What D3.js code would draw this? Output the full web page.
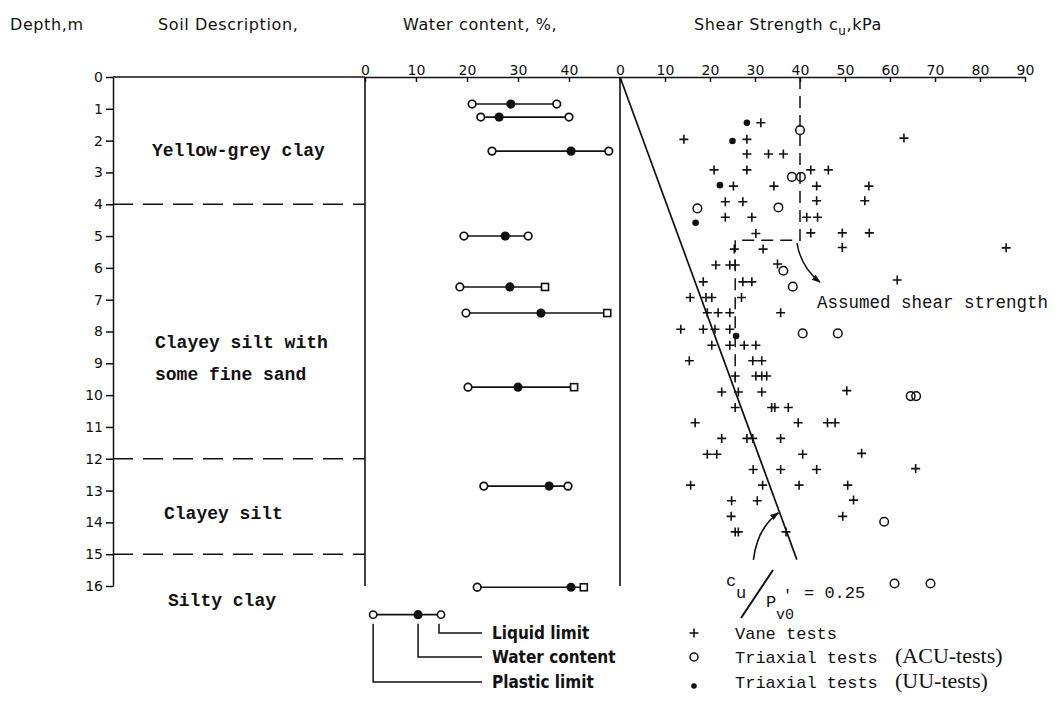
<!DOCTYPE html>
<html>
<head>
<meta charset="utf-8">
<script src="https://cdn.jsdelivr.net/npm/d3@7"></script>
<style>
  body { margin: 0; background: #fff; }
  svg text { fill: #111; }
</style>
</head>
<body>
<svg id="chart" width="1057" height="725"></svg>
<script>
// ---- Water content profile (depth in m, values in %) ----
const wcDepth         = [0.85, 1.26, 2.33, 5.0, 6.6, 7.42, 9.75, 12.86, 16.04];
const plasticLimit    = [21.0, 22.7, 24.9, 19.4, 18.6, 19.8, 20.2, 23.3, 22.0];
const waterContent    = [28.6, 26.3, 40.4, 27.5, 28.4, 34.5, 30.0, 36.1, 40.4];
const liquidLimit     = [37.6, 40.0, 47.8, 32.0, 35.3, 47.5, 41.0, 39.8, 42.9];
const liquidLimitMark = ["circle", "circle", "circle", "circle", "square", "square", "square", "circle", "square"];

// ---- Vane tests: undrained shear strength (kPa) against depth (m) ----
const vaneDepth = [1.44, 1.96, 1.96, 2.42, 2.42, 2.42, 2.92, 2.92, 2.92, 2.92,
  3.43, 3.43, 3.43, 3.43, 3.92, 3.92, 3.89, 3.89, 4.41, 4.41, 4.41, 4.41,
  4.92, 4.90, 4.90, 4.90, 5.41, 5.41, 5.36, 5.91, 5.91, 5.91, 5.88,
  6.44, 6.44, 6.44, 6.38, 6.93, 6.93, 6.93, 6.93, 7.41, 7.41, 7.41, 7.41,
  7.93, 7.93, 7.93, 7.93, 8.43, 8.43, 8.43, 8.43, 8.92, 8.92, 8.92,
  9.40, 9.40, 9.40, 9.40, 9.90, 9.90, 9.90, 9.86, 10.39, 10.39, 10.39, 10.39,
  10.87, 10.87, 10.87, 10.87, 11.36, 11.36, 11.36, 11.36, 11.86, 11.86, 11.86, 11.83,
  12.34, 12.34, 12.34, 12.83, 12.83, 12.83, 12.83, 13.32, 13.32, 13.30,
  13.81, 13.81, 14.30, 14.30, 14.30, 1.92, 5.37, 12.31];
const vaneCu = [31.3, 14.2, 28.2, 28.2, 33.0, 36.3, 20.9, 28.2, 42.4, 46.3,
  25.2, 34.2, 43.7, 55.3, 23.4, 27.3, 43.7, 54.4, 23.4, 29.3, 41.5, 43.9,
  30.2, 42.4, 49.4, 55.4, 25.4, 31.8, 49.4, 21.3, 24.4, 25.6, 35.0,
  18.5, 27.3, 29.3, 61.6, 15.6, 19.1, 20.4, 27.0, 19.4, 21.8, 24.4, 35.7,
  13.5, 18.5, 21.1, 24.4, 20.4, 24.4, 27.6, 30.2, 15.4, 29.5, 31.5,
  25.6, 30.2, 31.5, 32.6, 22.6, 26.3, 31.5, 50.4, 25.6, 33.7, 34.4, 37.4,
  16.7, 39.6, 46.1, 47.8, 22.6, 28.2, 29.5, 35.7, 19.4, 21.5, 40.6, 53.7,
  29.6, 35.7, 43.7, 15.7, 31.7, 39.8, 50.6, 24.8, 30.5, 51.9,
  24.7, 49.5, 25.6, 26.3, 36.9, 63.1, 85.8, 65.7];

// ---- Triaxial tests ----
const acuDepth = [1.67, 3.14, 3.14, 4.13, 4.10, 6.09, 6.59, 8.06, 8.06, 10.03, 10.03, 13.98, 15.92, 15.92];
const acuCu    = [40.0, 38.2, 40.2, 17.2, 35.2, 36.3, 38.4, 40.6, 48.4, 64.6, 65.8, 58.7, 61.0, 69.0];
const uuDepth  = [1.44, 2.01, 3.40, 4.58, 8.14];
const uuCu     = [28.2, 25.0, 22.2, 16.8, 25.8];

// ---- Design lines ----
const ratioLineDepth = [0, 15.17];          // c_u / p'_v0 = 0.25
const ratioLineCu    = [0, 39.3];
const assumedDepth   = [0, 5.13, 5.13, 9.6]; // assumed shear strength (step)
const assumedCu      = [40, 40, 25.6, 25.6];

// ---- Soil profile ----
const layerBounds  = [4, 12, 15];
const soilNames    = [["Yellow-grey clay"], ["Clayey silt with", "some fine sand"], ["Clayey silt"], ["Silty clay"]];
const soilLabelDepth = [2.3, 8.33, 13.7, 16.45];

// ---- Axes ----
const depthTicks = d3.range(0, 17);
const waterTicks = [0, 10, 20, 30, 40];
const shearTicks = d3.range(0, 100, 10);

// ---- Legend ----
const legendWater = { pl: 1.6, w: 10.4, ll: 14.9, depth: 16.9 };
const waterLegendLabels = ["Liquid limit", "Water content", "Plastic limit"];
const testLegendLabels  = [["Vane tests", ""], ["Triaxial tests", "(ACU-tests)"], ["Triaxial tests", "(UU-tests)"]];

const svg = d3.select("#chart");
const MONO = "'Liberation Mono', 'DejaVu Sans Mono', monospace";
const SANS = "'DejaVu Sans', sans-serif";
const INK = "#111";

const yD = d3.scaleLinear().domain([0, 16]).range([77, 586]);
const xW = d3.scaleLinear().domain([0, 50]).range([365, 620]);
const xS = d3.scaleLinear().domain([0, 90]).range([620, 1025]);
const xDepthAxis = 113;

// ---- Header ----
const header = svg.append("g").attr("font-family", SANS).attr("font-size", 16).attr("letter-spacing", 0.6);
header.append("text").attr("x", 10).attr("y", 30).text("Depth,m");
header.append("text").attr("x", 158).attr("y", 30).text("Soil Description,");
header.append("text").attr("x", 403).attr("y", 30).text("Water content, %,");
const sh = header.append("text").attr("x", 694).attr("y", 30);
sh.append("tspan").text("Shear Strength  c");
sh.append("tspan").attr("dy", 5).attr("font-size", 12).text("u");
sh.append("tspan").attr("dy", -5).text(",kPa");

// ---- Axes ----
function styleAxis(g) {
  g.selectAll("path, line").attr("stroke", INK).attr("stroke-width", 1.5);
  g.selectAll("text").attr("font-family", SANS).attr("font-size", 14).attr("fill", INK);
}
svg.append("g").attr("transform", `translate(${xDepthAxis},0)`)
  .call(d3.axisLeft(yD).tickValues(depthTicks).tickSizeInner(7).tickSizeOuter(0).tickPadding(3))
  .call(styleAxis);
svg.append("line").attr("x1", xDepthAxis).attr("x2", xW(0)).attr("y1", yD(0)).attr("y2", yD(0))
  .attr("stroke", INK).attr("stroke-width", 1.5);
svg.append("g").attr("transform", `translate(0,${yD(0)})`)
  .call(d3.axisTop(xW).tickValues(waterTicks).tickSizeInner(-5).tickSizeOuter(0).tickPadding(2))
  .call(styleAxis);
svg.append("g").attr("transform", `translate(0,${yD(0)})`)
  .call(d3.axisTop(xS).tickValues(shearTicks).tickSizeInner(-5).tickSizeOuter(0).tickPadding(2))
  .call(styleAxis);

// panel borders of the water-content column
[xW(0), xW(50)].forEach(x => {
  svg.append("line").attr("x1", x).attr("x2", x).attr("y1", yD(0)).attr("y2", yD(16))
    .attr("stroke", INK).attr("stroke-width", 1.6);
});

// ---- Soil layers ----
svg.append("g").selectAll("line").data(layerBounds).join("line")
  .attr("x1", xDepthAxis).attr("x2", xW(0))
  .attr("y1", d => yD(d)).attr("y2", d => yD(d))
  .attr("stroke", INK).attr("stroke-width", 1.4).attr("stroke-dasharray", "20,10");
const soilX = [152, 155, 164, 168];
const soil = svg.append("g").attr("font-family", MONO).attr("font-size", 18).attr("font-weight", "bold");
soilNames.forEach((lines, i) => {
  lines.forEach((t, j) => {
    soil.append("text").attr("x", soilX[i]).attr("y", yD(soilLabelDepth[i]) + 6 + j * 32).text(t);
  });
});

// ---- Water content rows ----
const wc = svg.append("g");
wcDepth.forEach((d, i) => {
  const y = yD(d);
  wc.append("line").attr("x1", xW(plasticLimit[i])).attr("x2", xW(liquidLimit[i]))
    .attr("y1", y).attr("y2", y).attr("stroke", INK).attr("stroke-width", 1.6);
  wc.append("circle").attr("cx", xW(plasticLimit[i])).attr("cy", y).attr("r", 3.8)
    .attr("fill", "#fff").attr("stroke", INK).attr("stroke-width", 1.7);
  wc.append("circle").attr("cx", xW(waterContent[i])).attr("cy", y).attr("r", 4.6).attr("fill", INK);
  if (liquidLimitMark[i] === "square") {
    wc.append("rect").attr("x", xW(liquidLimit[i]) - 3.5).attr("y", y - 3.5).attr("width", 7).attr("height", 7)
      .attr("fill", "#fff").attr("stroke", INK).attr("stroke-width", 1.6);
  } else {
    wc.append("circle").attr("cx", xW(liquidLimit[i])).attr("cy", y).attr("r", 3.8)
      .attr("fill", "#fff").attr("stroke", INK).attr("stroke-width", 1.7);
  }
});

// ---- Water content legend ----
const lg = svg.append("g");
const ly = yD(legendWater.depth);
lg.append("line").attr("x1", xW(legendWater.pl)).attr("x2", xW(legendWater.ll)).attr("y1", ly).attr("y2", ly)
  .attr("stroke", INK).attr("stroke-width", 1.6);
lg.append("circle").attr("cx", xW(legendWater.pl)).attr("cy", ly).attr("r", 3.6).attr("fill", "#fff").attr("stroke", INK).attr("stroke-width", 1.6);
lg.append("circle").attr("cx", xW(legendWater.w)).attr("cy", ly).attr("r", 4.6).attr("fill", INK);
lg.append("circle").attr("cx", xW(legendWater.ll)).attr("cy", ly).attr("r", 3.6).attr("fill", "#fff").attr("stroke", INK).attr("stroke-width", 1.6);
const rowY = [633, 657, 682];
const leaderX = [xW(legendWater.ll) - 2, xW(legendWater.w), xW(legendWater.pl)];
const leaderEnd = 482;
waterLegendLabels.forEach((t, i) => {
  lg.append("path").attr("d", `M${leaderX[i]},${ly + 9}V${rowY[i]}H${leaderEnd}`)
    .attr("fill", "none").attr("stroke", INK).attr("stroke-width", 1.5);
  lg.append("text").attr("x", 492).attr("y", rowY[i] + 6)
    .attr("font-family", "'Liberation Sans Narrow', 'DejaVu Sans Condensed', sans-serif")
    .attr("font-weight", "bold").attr("font-size", 17).text(t);
});

// ---- Shear strength: design lines ----
const lineGen = d3.line().x(p => xS(p[0])).y(p => yD(p[1]));
svg.append("path").attr("d", lineGen(ratioLineCu.map((c, i) => [c, ratioLineDepth[i]])))
  .attr("fill", "none").attr("stroke", INK).attr("stroke-width", 1.7);
svg.append("path").attr("d", lineGen(assumedCu.map((c, i) => [c, assumedDepth[i]])))
  .attr("fill", "none").attr("stroke", INK).attr("stroke-width", 1.5).attr("stroke-dasharray", "12,7");

// arrow markers
svg.append("defs").append("marker").attr("id", "arrow")
  .attr("viewBox", "0 0 10 10").attr("refX", 9).attr("refY", 5)
  .attr("markerWidth", 9).attr("markerHeight", 9).attr("markerUnits", "userSpaceOnUse")
  .attr("orient", "auto")
  .append("path").attr("d", "M0,1.5L10,5L0,8.5Z").attr("fill", INK);

// "Assumed shear strength" pointer
const corner = [xS(40), yD(5.13)];
svg.append("path")
  .attr("d", `M${corner[0] - 3},${corner[1] + 3} Q${corner[0] + 1},${corner[1] + 27} ${corner[0] + 20},${corner[1] + 42}`)
  .attr("fill", "none").attr("stroke", INK).attr("stroke-width", 1.5).attr("marker-end", "url(#arrow)");
svg.append("text").attr("x", 817).attr("y", 308).attr("font-family", MONO).attr("font-size", 17.5)
  .text("Assumed shear strength");

// c_u / p'_v0 pointer and label
const tip = [xS(35.2), yD(13.7)];
svg.append("path")
  .attr("d", `M${tip[0] - 25},${tip[1] + 47} Q${tip[0] - 21},${tip[1] + 15} ${tip[0]},${tip[1]}`)
  .attr("fill", "none").attr("stroke", INK).attr("stroke-width", 1.6).attr("marker-end", "url(#arrow)");
const rl = svg.append("g").attr("font-family", MONO).attr("font-size", 17);
rl.append("text").attr("x", 726).attr("y", 586).text("c");
rl.append("text").attr("x", 736).attr("y", 598).text("u");
rl.append("line").attr("x1", 773).attr("y1", 570).attr("x2", 741).attr("y2", 618).attr("stroke", INK).attr("stroke-width", 2);
rl.append("text").attr("x", 766).attr("y", 607).text("P");
rl.append("text").attr("x", 783).attr("y", 600).text("\u2032").attr("font-size", 15);
rl.append("text").attr("x", 776).attr("y", 619).text("v0").attr("font-size", 15);
rl.append("text").attr("x", 804).attr("y", 598).text("= 0.25");

// ---- Shear strength: test results ----
const plus = "M-4.5,0H4.5M0,-4.5V4.5";
svg.append("g").selectAll("path").data(vaneDepth).join("path")
  .attr("transform", (d, i) => `translate(${xS(vaneCu[i])},${yD(d)})`)
  .attr("d", plus).attr("stroke", INK).attr("stroke-width", 1.6);
svg.append("g").selectAll("circle").data(acuDepth).join("circle")
  .attr("cx", (d, i) => xS(acuCu[i])).attr("cy", d => yD(d)).attr("r", 4.3)
  .attr("fill", "none").attr("stroke", INK).attr("stroke-width", 1.5);
svg.append("g").selectAll("circle").data(uuDepth).join("circle")
  .attr("cx", (d, i) => xS(uuCu[i])).attr("cy", d => yD(d)).attr("r", 3.3).attr("fill", INK);

// ---- Test legend ----
const tl = svg.append("g");
const symX = 694, textX = 735;
tl.append("path").attr("transform", `translate(${symX},${rowY[0]})`).attr("d", plus).attr("stroke", INK).attr("stroke-width", 1.6);
tl.append("circle").attr("cx", symX).attr("cy", rowY[1]).attr("r", 4).attr("fill", "none").attr("stroke", INK).attr("stroke-width", 1.5);
tl.append("circle").attr("cx", symX).attr("cy", rowY[2] + 4).attr("r", 2.8).attr("fill", INK);
testLegendLabels.forEach((pair, i) => {
  const t = tl.append("text").attr("x", textX).attr("y", rowY[i] + 6).attr("font-family", MONO).attr("font-size", 17);
  t.append("tspan").text(pair[0]);
  if (pair[1]) {
    t.append("tspan").attr("x", 895).attr("font-family", "'Liberation Serif', 'Times New Roman', serif")
      .attr("font-size", 22).text(pair[1]);
  }
});
</script>
</body>
</html>
